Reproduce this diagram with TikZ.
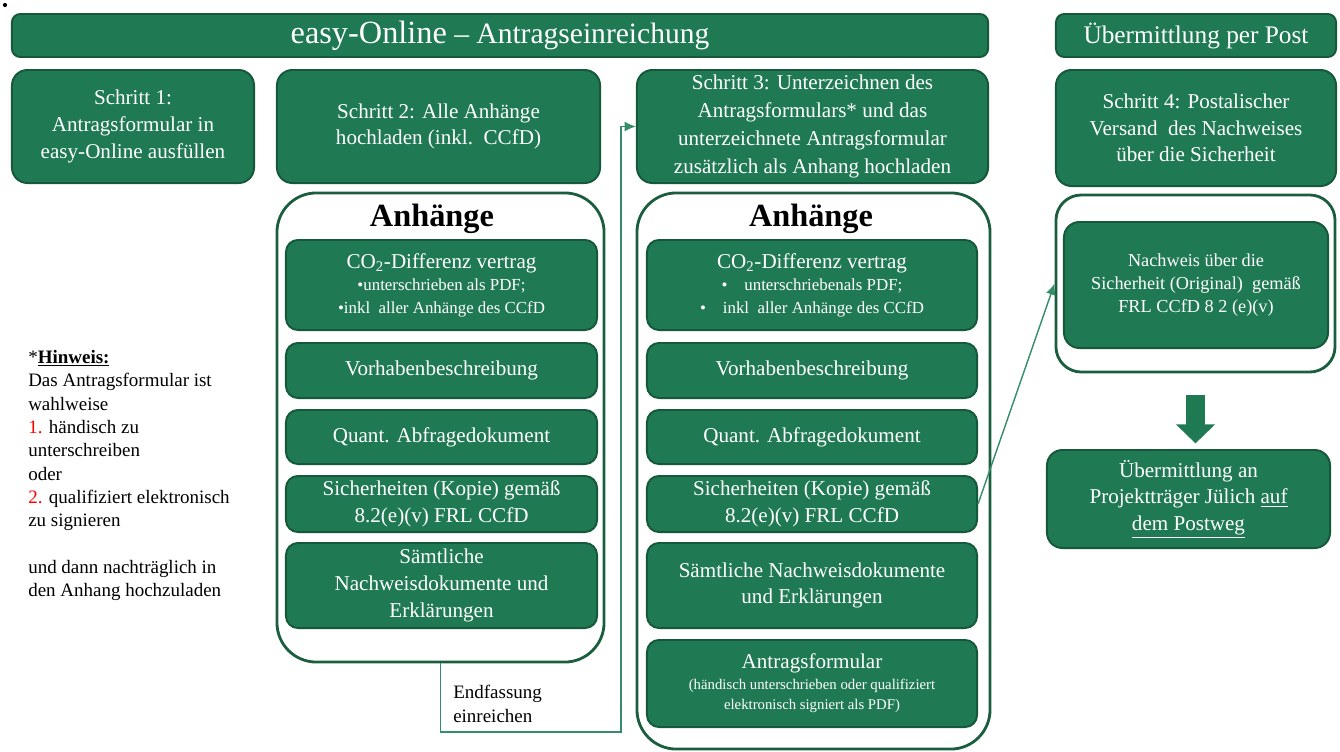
\documentclass[tikz,border=0pt]{standalone}
\usepackage{fontspec}
\setmainfont{Liberation Serif}
\usetikzlibrary{arrows.meta}
\definecolor{boxgruen}{RGB}{31,122,83}
\definecolor{boxrand}{RGB}{22,88,58}
\definecolor{rahmengruen}{RGB}{26,94,62}
\definecolor{liniengruen}{RGB}{52,140,104}

\begin{document}
\begin{tikzpicture}[x=0.025cm,y=-0.025cm]
\tikzstyle{kasten}=[draw=boxrand, line width=1.4pt, fill=boxgruen, rounded corners=8.5pt, text=white, align=center, inner sep=2pt, font=\fontsize{15}{19}\selectfont]
\tikzstyle{schritt}=[kasten, rounded corners=11pt]
\tikzstyle{rahmen}=[draw=rahmengruen, line width=2pt, rounded corners=28pt]
\tikzstyle{line}=[draw=liniengruen, line width=1pt, -{Latex[length=8pt,width=7pt]}]
\tikzstyle{blockpfeil}=[draw=boxgruen, line width=14pt, -{Triangle[width=27pt,length=13.5pt]}, shorten <=15pt, shorten >=4pt]
\tikzstyle{notiz}=[align=left, inner sep=0pt, font=\fontsize{13.5}{16.6}\selectfont]

\useasboundingbox (0,0) rectangle (1340,751);
\fill (5,5) circle (1.5pt);

% Kopfzeilen
\node[schritt, minimum width=24.4cm, minimum height=1.075cm, rounded corners=6pt] (kopf) at (500,35.5) {{\fontsize{23}{28}\selectfont easy-Online}{\fontsize{21}{26}\selectfont{} – Antragseinreichung}};
\node[schritt, minimum width=7cm, minimum height=1.075cm, rounded corners=6pt, font=\fontsize{18}{22}\selectfont] (postkopf) at (1196,35.5) {Übermittlung per Post};

% Schritte
\node[schritt, minimum width=6.05cm, minimum height=2.825cm] (s1) at (133,126.5) {Schritt 1:\\ Antragsformular in\\ easy-Online ausfüllen};
\node[schritt, minimum width=8.075cm, minimum height=2.825cm] (s2) at (438.5,126.5) {Schritt 2: Alle Anhänge\\ hochladen (inkl.\ \ CCfD)};
\node[schritt, minimum width=8.775cm, minimum height=2.825cm, font=\fontsize{15}{20}\selectfont] (s3) at (812.5,126.5) {Schritt 3: Unterzeichnen des\\ Antragsformulars* und das\\ unterzeichnete Antragsformular\\ zusätzlich als Anhang hochladen};
\node[schritt, minimum width=7cm, minimum height=2.9cm] (s4) at (1196,128) {Schritt 4: Postalischer\\ Versand\ \ des Nachweises\\ über die Sicherheit};

% Rahmen Anhaenge
\node[rahmen, minimum width=8.175cm, minimum height=11.725cm] (anhA) at (440.5,427.5) {};
\node[rahmen, minimum width=8.825cm, minimum height=13.9cm] (anhB) at (813.5,471) {};
\node[font=\fontsize{23}{28}\selectfont\bfseries] (anhAtitel) at (432,219) {Anhänge};
\node[font=\fontsize{23}{28}\selectfont\bfseries] (anhBtitel) at (811,219) {Anhänge};

% Anhaenge Schritt 2
\node[kasten, minimum width=7.775cm, minimum height=2.25cm, font=\fontsize{12}{16}\selectfont] (co2A) at (441.5,285) {{\fontsize{15}{19}\selectfont CO\textsubscript{2}-Differenz vertrag}\\ •unterschrieben als PDF;\\ •inkl\ \ aller Anhänge des CCfD};
\node[kasten, minimum width=7.775cm, minimum height=1.375cm] (vorA) at (441.5,370.5) {Vorhabenbeschreibung};
\node[kasten, minimum width=7.775cm, minimum height=1.35cm] (quantA) at (441.5,437) {Quant. Abfragedokument};
\node[kasten, minimum width=7.775cm, minimum height=1.4cm] (sichA) at (441.5,504) {Sicherheiten (Kopie) gemäß\\ 8.2(e)(v) FRL CCfD};
\node[kasten, minimum width=7.775cm, minimum height=2.125cm] (saemtA) at (441.5,585.5) {Sämtliche\\ Nachweisdokumente und\\ Erklärungen};

% Anhaenge Schritt 3
\node[kasten, minimum width=8.25cm, minimum height=2.25cm, font=\fontsize{12}{16}\selectfont] (co2B) at (812,285) {{\fontsize{15}{19}\selectfont CO\textsubscript{2}-Differenz vertrag}\\ •\quad unterschriebenals PDF;\\ •\quad inkl\ \ aller Anhänge des CCfD};
\node[kasten, minimum width=8.25cm, minimum height=1.375cm] (vorB) at (812,370.5) {Vorhabenbeschreibung};
\node[kasten, minimum width=8.25cm, minimum height=1.35cm] (quantB) at (812,437) {Quant. Abfragedokument};
\node[kasten, minimum width=8.25cm, minimum height=1.4cm] (sichB) at (812,504) {Sicherheiten (Kopie) gemäß\\ 8.2(e)(v) FRL CCfD};
\node[kasten, minimum width=8.25cm, minimum height=2.125cm] (saemtB) at (812,585.5) {Sämtliche Nachweisdokumente\\ und Erklärungen};
\node[kasten, minimum width=8.25cm, minimum height=2.175cm, font=\fontsize{10.5}{14.5}\selectfont] (antrB) at (812,683.5) {{\fontsize{15}{19}\selectfont Antragsformular}\\ (händisch unterschrieben oder qualifiziert\\ elektronisch signiert als PDF)};

% Post
\node[rahmen, minimum width=6.975cm, minimum height=4.425cm, rounded corners=18pt] (nachO) at (1195.5,283.5) {};
\node[kasten, minimum width=6.6cm, minimum height=3.15cm, rounded corners=11pt, font=\fontsize{13}{16.5}\selectfont] (nachI) at (1196,285) {Nachweis über die\\ Sicherheit (Original)\ \ gemäß\\ FRL CCfD 8 2 (e)(v)};
\node[schritt, minimum width=7.075cm, minimum height=2.45cm] (ueb) at (1188.5,499) {Übermittlung an\\ Projektträger Jülich \underline{auf}\\ \underline{dem Postweg}};

% Hinweis
\node[notiz, anchor=north west] (hinweis) at (28,350) {*\textbf{\underline{Hinweis:}}\\
Das Antragsformular ist\\
wahlweise\\
\textcolor{red}{1.} händisch zu\\
unterschreiben\\
oder\\
\textcolor{red}{2.} qualifiziert elektronisch\\
zu signieren\\[16.6pt]
und dann nachträglich in\\
den Anhang hochzuladen};
\node[notiz, anchor=west] (endtext) at (453,704) {Endfassung\\ einreichen};

% Verbindungen
\coordinate (knick) at (621,732);
\draw[line] (anhA.south) |- (knick) |- (s3.west);
\draw[line] (sichB.east) -- (nachO.west);
\draw[blockpfeil] (nachO.south) -- (nachO.south |- ueb.north);
\end{tikzpicture}
\end{document}
